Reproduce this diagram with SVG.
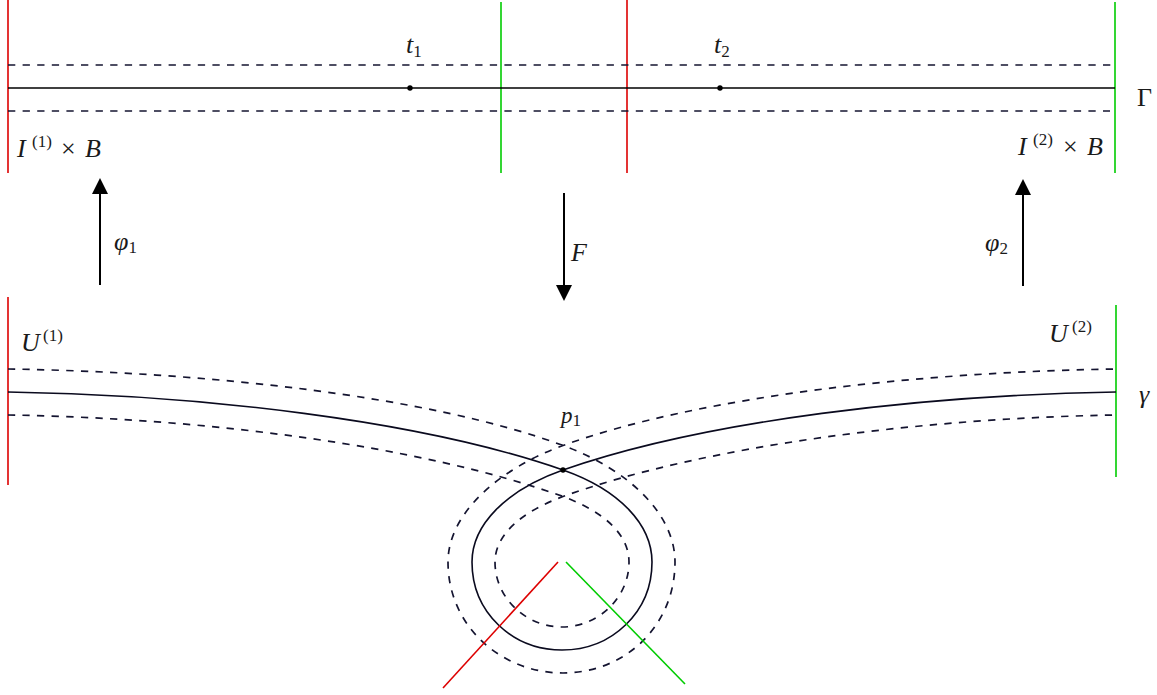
<svg xmlns="http://www.w3.org/2000/svg" width="1157" height="695" viewBox="0 0 1157 695">
<style>
.red{stroke:#dd0000;stroke-width:1.6;fill:none}
.grn{stroke:#00cc00;stroke-width:1.6;fill:none}
.sol{stroke:#000;stroke-width:1.6;fill:none}
.loop{stroke:#0a0a1e;stroke-width:1.6;fill:none}
.dsh{stroke:#141430;stroke-width:1.7;fill:none;stroke-dasharray:7.3 7.3}
.arr{stroke:#000;stroke-width:2;fill:none}
.m{font-family:"Liberation Serif","DejaVu Serif",serif;font-size:26px;fill:#1a1a1a}
.i{font-style:italic}
.s{font-size:17px}
</style>
<defs>
<marker id="ah" viewBox="0 0 16 16" refX="2" refY="8" markerWidth="16" markerHeight="16" markerUnits="userSpaceOnUse" orient="auto">
<path d="M0,0 L16,8 L0,16 Z" fill="#000"/>
</marker>
</defs>

<g id="top-panel">
<line class="red" x1="8" y1="0" x2="8" y2="173"/>
<line class="grn" x1="501" y1="2" x2="501" y2="173"/>
<line class="red" x1="627" y1="0" x2="627" y2="173"/>
<line class="grn" x1="1115" y1="2" x2="1115" y2="173"/>
<line class="dsh" x1="8" y1="65" x2="1115" y2="65"/>
<line class="sol" x1="8" y1="88" x2="1115" y2="88"/>
<line class="dsh" x1="8" y1="111" x2="1110" y2="111"/>
<circle cx="410" cy="88" r="2.7" fill="#000"/>
<circle cx="720" cy="88" r="2.7" fill="#000"/>
</g>

<g id="label-t1"><text class="m" x="406" y="53"><tspan class="i">t</tspan><tspan class="s" dy="4">1</tspan></text></g>
<g id="label-t2"><text class="m" x="714" y="53"><tspan class="i">t</tspan><tspan class="s" dy="4">2</tspan></text></g>
<g id="label-Gamma"><text class="m" x="1137" y="106">Γ</text></g>
<g id="label-I1B">
<text class="m i" x="17" y="157">I</text>
<text class="m s" x="32" y="147">(1)</text>
<text class="m" x="61" y="157">×</text>
<text class="m i" x="85" y="157">B</text>
</g>
<g id="label-I2B">
<text class="m i" x="1018" y="155">I</text>
<text class="m s" x="1033" y="145">(2)</text>
<text class="m" x="1063" y="155">×</text>
<text class="m i" x="1087" y="155">B</text>
</g>

<g id="connectors">
<line class="arr" x1="100" y1="285" x2="100" y2="192" marker-end="url(#ah)"/>
<line class="arr" x1="564" y1="193" x2="564" y2="287" marker-end="url(#ah)"/>
<line class="arr" x1="1023" y1="286" x2="1023" y2="193" marker-end="url(#ah)"/>
</g>
<g id="label-phi1"><text class="m" x="114" y="250"><tspan class="i">φ</tspan><tspan class="s" dy="3">1</tspan></text></g>
<g id="label-F"><text class="m i" x="571" y="261">F</text></g>
<g id="label-phi2"><text class="m" x="985" y="251"><tspan class="i">φ</tspan><tspan class="s" dy="3">2</tspan></text></g>

<g id="bottom-panel">
<line class="red" x1="8" y1="297" x2="8" y2="485"/>
<line class="grn" x1="1116" y1="305" x2="1116" y2="477"/>
<path class="dsh" d="M8,369 C205,372 430,396 563,445.5 C630,470 675,515 675,562 C675,626 625,673 563,673 C501,673 448,626 448,562 C448,515 496,470 563,445.5 C700,396 920,372 1116,369"/>
<path class="loop" d="M8,392 C200,395 420,420 563,470 C620,490 652,525 652,562 C652,612 612,650 562,650 C512,650 472,612 472,562 C472,525 506,490 563,470 C706,420 926,395 1116,392"/>
<path class="dsh" d="M8,415 C200,418 420,445 563,496.5 C605,512 629,535 629,562 C629,598 598,627 562,627 C526,627 495,598 495,562 C495,535 521,512 563,496.5 C706,445 926,418 1116,415"/>
<circle cx="563" cy="470" r="2.7" fill="#000"/>
<line class="red" x1="558" y1="562" x2="443" y2="688"/>
<line class="grn" x1="566" y1="562" x2="685" y2="684"/>
</g>

<g id="label-U1">
<text class="m i" x="21" y="351">U</text>
<text class="m s" x="43" y="341">(1)</text>
</g>
<g id="label-U2">
<text class="m i" x="1049" y="342">U</text>
<text class="m s" x="1072" y="332">(2)</text>
</g>
<g id="label-gamma"><text class="m i" x="1139" y="403">γ</text></g>
<g id="label-p1"><text class="m" x="561" y="423" style="font-size:23px"><tspan class="i">p</tspan><tspan class="s" dy="3">1</tspan></text></g>
</svg>
